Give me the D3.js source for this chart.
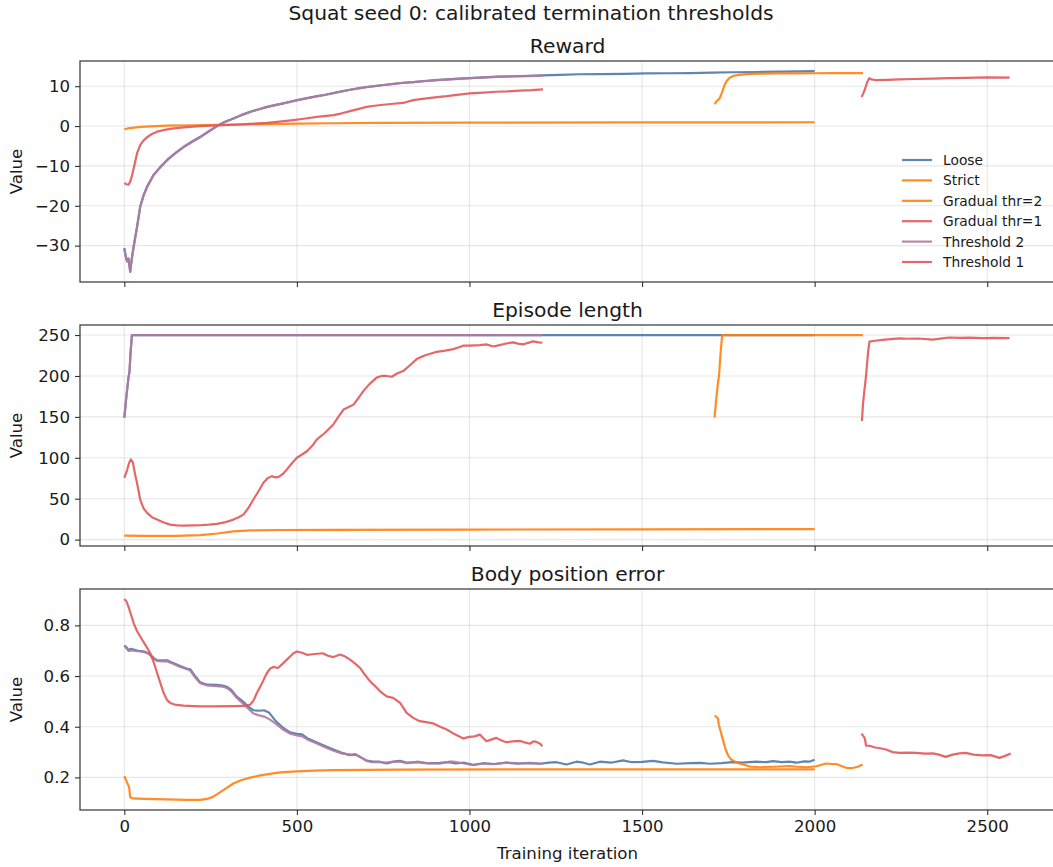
<!DOCTYPE html>
<html>
<head>
<meta charset="utf-8">
<script src="https://cdn.jsdelivr.net/npm/d3@7"></script>
<style>
  html, body { margin: 0; padding: 0; background: #ffffff; }
  svg { display: block; font-family: "DejaVu Sans", sans-serif; }
</style>
</head>
<body>
<div id="chart"></div>
<script>
// ---- Run labels ----------------------------------------------------------
const seriesNames = ["Loose", "Strict", "Gradual thr=2", "Gradual thr=1", "Threshold 2", "Threshold 1"];

// ---- Reward: [iteration, value] -----------------------------------------
const looseReward = [[0,-30.6],[5,-33.0],[8,-33.8],[12,-33.2],[17,-36.6],[22,-33.0],[27,-30.2],[37,-25.2],[46,-20.2],[56,-17.3],[66,-15.2],[85,-12.2],[105,-10.2],[124,-8.5],[150,-6.6],[172,-5.2],[200,-3.7],[220,-2.7],[245,-1.3],[268,0],[290,1.0],[316,1.9],[340,2.8],[365,3.6],[390,4.2],[413,4.8],[440,5.3],[461,5.7],[480,6.1],[500,6.5],[530,7.0],[558,7.5],[580,7.8],[606,8.3],[630,8.7],[654,9.1],[680,9.5],[702,9.8],[730,10.1],[751,10.3],[780,10.6],[799,10.8],[837,11.0],[870,11.3],[900,11.5],[934,11.7],[970,11.9],[1001,12.0],[1040,12.2],[1080,12.4],[1127,12.5],[1170,12.6],[1213,12.7],[1260,12.85],[1319,13.0],[1380,13.05],[1450,13.1],[1512,13.2],[1580,13.25],[1640,13.3],[1705,13.4],[1760,13.5],[1830,13.55],[1898,13.65],[1950,13.7],[2000,13.8]];
const strictReward = [[0,-0.8],[10,-0.6],[27,-0.4],[50,-0.2],[75,-0.1],[124,0.1],[200,0.2],[316,0.35],[413,0.5],[500,0.6],[600,0.7],[740,0.8],[1000,0.85],[1500,0.9],[2000,0.95]];
const gradual2Reward = [[1710,5.5],[1716,6.2],[1725,7.0],[1732,8.5],[1739,10.3],[1746,11.4],[1754,12.1],[1765,12.6],[1782,12.85],[1812,13.1],[1850,13.15],[1900,13.2],[1950,13.2],[2000,13.25],[2050,13.3],[2100,13.3],[2140,13.3]];
const gradual1Reward = [[2136,7.3],[2141,8.2],[2146,9.3],[2152,11.0],[2158,12.0],[2165,11.7],[2178,11.5],[2210,11.6],[2245,11.7],[2290,11.8],[2342,11.9],[2390,12.0],[2438,12.1],[2500,12.2],[2565,12.15]];
const thr2Reward = [[0,-30.8],[5,-33.2],[8,-34.0],[12,-33.4],[17,-36.4],[22,-33.2],[27,-30.4],[37,-25.3],[46,-20.3],[56,-17.4],[66,-15.3],[85,-12.3],[105,-10.3],[124,-8.6],[150,-6.7],[172,-5.3],[200,-3.8],[220,-2.8],[245,-1.35],[268,-0.05],[290,0.95],[316,1.9],[340,2.75],[365,3.55],[390,4.2],[413,4.75],[440,5.3],[461,5.7],[480,6.05],[500,6.45],[530,7.0],[558,7.45],[580,7.8],[606,8.25],[630,8.7],[654,9.1],[680,9.45],[702,9.75],[730,10.05],[751,10.3],[780,10.55],[799,10.75],[837,11.0],[870,11.25],[900,11.45],[934,11.65],[970,11.85],[1001,12.0],[1040,12.15],[1080,12.35],[1127,12.45],[1170,12.55],[1213,12.65]];
const thr1Reward = [[0,-14.3],[6,-14.6],[12,-14.7],[17,-14.0],[22,-12.5],[30,-9.5],[37,-6.8],[46,-4.8],[56,-3.6],[66,-2.8],[80,-2.0],[95,-1.4],[120,-0.9],[143,-0.6],[180,-0.25],[220,0],[270,0.15],[316,0.33],[365,0.55],[413,0.8],[450,1.1],[490,1.5],[525,1.9],[558,2.3],[580,2.5],[606,2.75],[630,3.2],[654,3.75],[680,4.3],[702,4.8],[725,5.1],[750,5.35],[780,5.6],[808,5.8],[837,6.5],[870,6.9],[900,7.2],[934,7.5],[970,7.9],[1001,8.2],[1040,8.4],[1078,8.6],[1110,8.7],[1146,8.9],[1180,9.0],[1213,9.2]];

// ---- Episode length: [iteration, value] ---------------------------------
const looseLength = [[0,149],[6,175],[12,198],[15,205],[18,228],[22,250],[600,250],[1200,250],[2000,250]];
const strictLength = [[0,4.9],[60,4.5],[150,4.7],[220,5.5],[270,7.5],[316,10],[365,11.2],[450,11.8],[600,12.0],[1000,12.3],[1500,12.6],[2000,12.8]];
const gradual2Length = [[1710,149],[1715,172],[1720,192],[1723,200],[1727,225],[1732,250],[2140,250]];
const gradual1Length = [[2137,145],[2140,165],[2144,182],[2147,192],[2150,205],[2155,230],[2159,242],[2175,243],[2197,244],[2220,245],[2245,246],[2270,245.5],[2300,245.8],[2342,244.3],[2370,246],[2390,247],[2420,246.5],[2450,246.8],[2487,246.3],[2520,246.5],[2565,246.3]];
const thr2Length = [[0,149],[6,175],[12,198],[15,205],[18,228],[22,250],[600,250],[1210,250]];
const thr1Length = [[0,75.6],[8,85],[14,94],[19,98],[25,94],[31,80],[37,69],[46,49],[56,38],[66,32.7],[80,27.5],[95,24.5],[114,21],[133,18.4],[152,17.5],[172,17.2],[200,17.4],[220,17.6],[245,18.3],[268,19.2],[290,21],[316,24.5],[330,27],[345,30.6],[360,39],[374,49],[390,60],[403,69.5],[415,75],[427,77.6],[437,76],[447,76.7],[460,80.5],[471,85.8],[485,93],[500,100],[515,104],[529,108],[545,115],[558,122.5],[580,130],[606,141],[620,150],[635,159],[650,162],[664,165],[680,174],[693,181.8],[710,190],[731,198],[745,200],[760,200],[775,199],[790,203],[808,206],[830,214],[847,220.6],[870,225],[905,229.5],[930,231],[953,232.8],[970,235],[982,237],[1000,237],[1030,237.7],[1050,238.5],[1069,236],[1090,238],[1110,240],[1127,241],[1140,239.5],[1156,238.6],[1170,240.5],[1184,242.2],[1200,241],[1211,240.6]];

// ---- Body position error: [iteration, value] ----------------------------
const looseError = [[0,0.72],[6,0.715],[12,0.70],[18,0.708],[27,0.705],[40,0.70],[56,0.698],[70,0.69],[85,0.672],[95,0.662],[110,0.662],[124,0.662],[140,0.652],[162,0.64],[180,0.63],[191,0.627],[205,0.60],[220,0.575],[240,0.566],[268,0.565],[285,0.562],[297,0.558],[310,0.545],[325,0.52],[345,0.498],[360,0.478],[374,0.465],[390,0.463],[405,0.465],[420,0.455],[440,0.42],[461,0.395],[480,0.378],[500,0.372],[515,0.37],[530,0.355],[558,0.338],[580,0.325],[606,0.31],[630,0.297],[654,0.288],[670,0.29],[690,0.275],[702,0.266],[720,0.262],[740,0.262],[760,0.255],[780,0.262],[799,0.265],[820,0.258],[850,0.26],[880,0.255],[914,0.257],[940,0.26],[960,0.255],[985,0.258],[1011,0.25],[1040,0.256],[1070,0.253],[1107,0.258],[1140,0.254],[1175,0.257],[1204,0.254],[1230,0.258],[1252,0.26],[1281,0.251],[1310,0.262],[1330,0.258],[1349,0.251],[1378,0.262],[1410,0.258],[1445,0.267],[1470,0.26],[1500,0.261],[1532,0.265],[1560,0.259],[1600,0.254],[1640,0.256],[1670,0.257],[1696,0.254],[1730,0.256],[1760,0.26],[1790,0.258],[1830,0.262],[1860,0.26],[1879,0.264],[1905,0.26],[1927,0.262],[1947,0.258],[1970,0.263],[1985,0.262],[2000,0.27]];
const strictError = [[0,0.205],[5,0.19],[8,0.179],[12,0.168],[14,0.16],[17,0.122],[25,0.117],[60,0.115],[124,0.113],[180,0.111],[220,0.111],[239,0.115],[255,0.122],[268,0.133],[290,0.153],[316,0.176],[340,0.19],[365,0.199],[390,0.207],[413,0.212],[440,0.218],[461,0.221],[500,0.224],[550,0.227],[606,0.229],[700,0.23],[800,0.231],[1200,0.232],[1600,0.232],[2000,0.232]];
const gradual2Error = [[1710,0.444],[1715,0.44],[1720,0.432],[1722,0.41],[1725,0.395],[1730,0.37],[1734,0.35],[1740,0.32],[1744,0.304],[1750,0.285],[1758,0.271],[1770,0.262],[1782,0.255],[1795,0.25],[1812,0.243],[1840,0.24],[1879,0.242],[1900,0.243],[1927,0.245],[1950,0.242],[1976,0.24],[2005,0.244],[2020,0.25],[2033,0.255],[2050,0.253],[2062,0.253],[2080,0.244],[2091,0.238],[2110,0.237],[2125,0.242],[2139,0.251]];
const gradual1Error = [[2136,0.373],[2140,0.365],[2143,0.36],[2146,0.35],[2149,0.325],[2159,0.325],[2175,0.318],[2190,0.315],[2207,0.31],[2225,0.3],[2245,0.297],[2270,0.298],[2294,0.297],[2320,0.294],[2342,0.295],[2360,0.29],[2380,0.281],[2400,0.29],[2420,0.295],[2438,0.297],[2460,0.29],[2487,0.287],[2510,0.288],[2535,0.277],[2550,0.284],[2568,0.294]];
const thr2Error = [[0,0.72],[6,0.71],[12,0.705],[18,0.70],[27,0.70],[40,0.698],[56,0.695],[70,0.688],[85,0.668],[95,0.66],[110,0.658],[124,0.658],[140,0.65],[162,0.636],[180,0.628],[191,0.622],[205,0.595],[220,0.572],[240,0.563],[268,0.56],[285,0.558],[297,0.553],[310,0.54],[325,0.515],[345,0.49],[360,0.47],[374,0.452],[390,0.445],[405,0.44],[420,0.43],[440,0.41],[461,0.388],[480,0.373],[500,0.366],[515,0.362],[530,0.35],[558,0.334],[580,0.32],[606,0.305],[630,0.295],[654,0.29],[670,0.292],[690,0.276],[702,0.265],[720,0.26],[740,0.26],[760,0.258],[780,0.262],[799,0.262],[820,0.256],[850,0.262],[880,0.256],[914,0.254],[940,0.262],[953,0.262],[985,0.255],[1011,0.248],[1040,0.255],[1070,0.252],[1107,0.258],[1140,0.256],[1175,0.255],[1213,0.254]];
const thr1Error = [[0,0.904],[6,0.895],[12,0.874],[20,0.84],[27,0.809],[36,0.78],[46,0.756],[60,0.725],[75,0.691],[85,0.655],[95,0.612],[105,0.57],[114,0.533],[124,0.505],[133,0.494],[150,0.486],[172,0.483],[200,0.481],[220,0.48],[260,0.48],[316,0.481],[345,0.482],[365,0.487],[375,0.505],[384,0.533],[400,0.575],[413,0.612],[423,0.63],[432,0.636],[445,0.632],[460,0.65],[481,0.678],[490,0.69],[500,0.697],[515,0.692],[529,0.684],[545,0.686],[560,0.688],[575,0.69],[590,0.68],[606,0.675],[625,0.685],[640,0.677],[654,0.665],[668,0.65],[683,0.632],[697,0.605],[712,0.579],[727,0.56],[741,0.54],[760,0.52],[779,0.514],[799,0.494],[818,0.455],[837,0.435],[856,0.422],[875,0.418],[895,0.413],[915,0.4],[934,0.389],[958,0.37],[982,0.354],[1000,0.36],[1015,0.362],[1030,0.369],[1049,0.343],[1065,0.35],[1078,0.356],[1093,0.346],[1107,0.339],[1125,0.342],[1146,0.344],[1160,0.338],[1175,0.333],[1185,0.342],[1194,0.34],[1205,0.333],[1211,0.323]];

// ---- Axis ticks --------------------------------------------------------
const iterationTicks = [0, 500, 1000, 1500, 2000, 2500];
const rewardTicks = [-30, -20, -10, 0, 10];
const lengthTicks = [0, 50, 100, 150, 200, 250];
const errorTicks = [0.2, 0.4, 0.6, 0.8];

// ---- Panels -------------------------------------------------------------
const panels = [
  { title: "Reward", series: [looseReward, strictReward, gradual2Reward, gradual1Reward, thr2Reward, thr1Reward], ticks: rewardTicks, fmt: d3.format("d") },
  { title: "Episode length", series: [looseLength, strictLength, gradual2Length, gradual1Length, thr2Length, thr1Length], ticks: lengthTicks, fmt: d3.format("d") },
  { title: "Body position error", series: [looseError, strictError, gradual2Error, gradual1Error, thr2Error, thr1Error], ticks: errorTicks, fmt: d3.format(".1f") }
];

const colors = ["#4e79a7", "#ff7f0e", "#ff7f0e", "#e15759", "#b07aa1", "#e15759"];

const W = 1053, H = 867;
const left = 80, right = 1055;
const panelTops = [61, 325, 589];
const panelH = 221;

const svg = d3.select("#chart").append("svg")
  .attr("width", W).attr("height", H)
  .attr("viewBox", `0 0 ${W} ${H}`);
svg.append("rect").attr("width", W).attr("height", H).attr("fill", "#ffffff");

// shared x domain with 5% padding on each side
const allX = panels.flatMap(p => p.series.flat().map(d => d[0]));
const [xmin, xmax] = d3.extent(allX);
const xpad = (xmax - xmin) * 0.05;
const x = d3.scaleLinear().domain([xmin - xpad, xmax + xpad]).range([left, right]);

const fontTick = 16.6, fontTitle = 20.3, fontLegend = 13.8;
const textColor = "#1a1a1a";

panels.forEach((p, i) => {
  const top = panelTops[i], bottom = top + panelH;
  const vals = p.series.flat().map(d => d[1]);
  const [ymin, ymax] = d3.extent(vals);
  const ypad = (ymax - ymin) * 0.05;
  const y = d3.scaleLinear().domain([ymin - ypad, ymax + ypad]).range([bottom, top]);

  const g = svg.append("g");

  // grid
  g.append("g").selectAll("line").data(iterationTicks).join("line")
    .attr("x1", d => x(d)).attr("x2", d => x(d))
    .attr("y1", top).attr("y2", bottom)
    .attr("stroke", "#b0b0b0").attr("stroke-opacity", 0.3).attr("stroke-width", 1.1);
  g.append("g").selectAll("line").data(p.ticks).join("line")
    .attr("x1", left).attr("x2", right)
    .attr("y1", d => y(d)).attr("y2", d => y(d))
    .attr("stroke", "#b0b0b0").attr("stroke-opacity", 0.3).attr("stroke-width", 1.1);

  // lines
  const line = d3.line().x(d => x(d[0])).y(d => y(d[1]));
  p.series.forEach((s, k) => {
    g.append("path").datum(s)
      .attr("d", line)
      .attr("fill", "none")
      .attr("stroke", colors[k])
      .attr("stroke-width", 2.2)
      .attr("stroke-opacity", 0.9)
      .attr("stroke-linejoin", "round")
      .attr("stroke-linecap", "butt");
  });

  // y axis
  const yAxis = d3.axisLeft(y).tickValues(p.ticks).tickFormat(p.fmt).tickSize(5).tickPadding(5);
  const ya = g.append("g").attr("transform", `translate(${left},0)`).call(yAxis);
  ya.select(".domain").remove();
  ya.selectAll(".tick line").attr("stroke", "#333").attr("stroke-width", 1.1);
  ya.selectAll(".tick text").attr("font-size", fontTick).attr("fill", textColor)
    .attr("font-family", "DejaVu Sans");

  // x axis (tick marks on every panel, labels on the last one)
  const xAxis = d3.axisBottom(x).tickValues(iterationTicks).tickSize(5).tickPadding(5)
    .tickFormat(i === panels.length - 1 ? d3.format("d") : () => "");
  const xa = g.append("g").attr("transform", `translate(0,${bottom})`).call(xAxis);
  xa.select(".domain").remove();
  xa.selectAll(".tick line").attr("stroke", "#333").attr("stroke-width", 1.1);
  xa.selectAll(".tick text").attr("font-size", fontTick).attr("fill", textColor)
    .attr("font-family", "DejaVu Sans");

  // frame
  g.append("rect").attr("x", left).attr("y", top)
    .attr("width", right - left).attr("height", panelH)
    .attr("fill", "none").attr("stroke", "#333").attr("stroke-width", 1.2);

  // panel title
  g.append("text").attr("x", (left + right) / 2).attr("y", top - 8.5)
    .attr("text-anchor", "middle").attr("font-size", fontTitle).attr("fill", textColor)
    .text(p.title);

  // y label
  g.append("text")
    .attr("transform", `translate(21.5,${(top + bottom) / 2}) rotate(-90)`)
    .attr("text-anchor", "middle").attr("font-size", fontTick).attr("fill", textColor)
    .text("Value");

  // legend in the first panel
  if (i === 0) {
    const lg = g.append("g");
    seriesNames.forEach((name, k) => {
      const yy = 160 + k * 20.4;
      lg.append("line").attr("x1", 902).attr("x2", 932).attr("y1", yy).attr("y2", yy)
        .attr("stroke", colors[k]).attr("stroke-width", 2.2).attr("stroke-opacity", 0.9);
      lg.append("text").attr("x", 943).attr("y", yy + 5)
        .attr("font-size", fontLegend).attr("fill", textColor).text(name);
    });
  }
});

// x label and figure title
svg.append("text").attr("x", (left + right) / 2).attr("y", 859)
  .attr("text-anchor", "middle").attr("font-size", fontTick).attr("fill", textColor)
  .text("Training iteration");
svg.append("text").attr("x", 531).attr("y", 20)
  .attr("text-anchor", "middle").attr("font-size", fontTitle).attr("fill", textColor)
  .text("Squat seed 0: calibrated termination thresholds");
</script>
</body>
</html>
